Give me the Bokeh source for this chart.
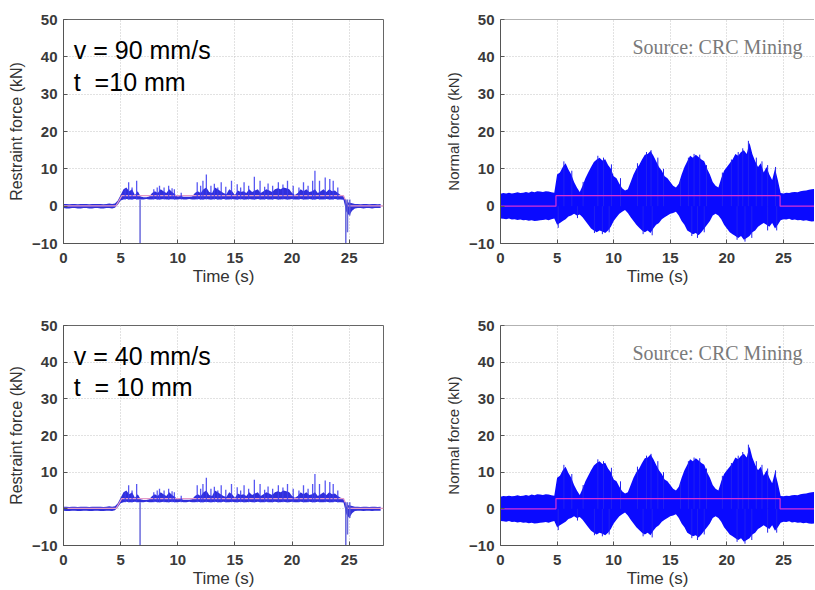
from bokeh.plotting import figure
from bokeh.layouts import column, row
from bokeh.models import Range1d, FixedTicker, Label, Span
from bokeh.embed import file_html
from bokeh.resources import INLINE

# ---------------- data ----------------
x_ticks = [0, 5, 10, 15, 20, 25]
y_ticks = [-10, 0, 10, 20, 30, 40, 50]

# sample times (s) of the envelopes, every 0.25 s
t_env = [i * 0.25 for i in range(112)]

# Normal force envelope (kN)
normal_upper = [3.3, 3.5, 3.4, 3.6, 3.4, 3.5, 3.7, 3.5, 3.6, 3.8, 3.6, 3.9, 3.7, 4.0, 3.9, 3.8, 4.0, 3.9, 3.7, 3.6,
                8.5, 9.0, 10.5, 11.5, 9.8, 8.5, 6.5, 5.0, 3.8, 5.5, 7.5, 9.0, 10.5, 11.8, 12.5, 13.0, 12.2, 12.6, 11.0, 10.0,
                8.0, 7.5, 6.0, 4.8, 4.2, 4.5, 6.5, 8.5, 10.0, 11.0, 12.5, 13.8, 14.0, 14.8, 13.6, 12.0, 10.5, 9.5, 8.0, 7.5,
                6.5, 5.5, 5.0, 6.0, 8.5, 10.5, 12.0, 13.5, 13.0, 13.8, 13.2, 12.5, 12.0, 10.0, 8.5, 6.5, 5.5, 5.0, 7.5, 9.5,
                10.5, 11.5, 12.5, 14.0, 13.5, 14.5, 15.0, 14.0, 17.0, 14.0, 12.0, 10.5, 11.5, 9.0, 10.5, 8.5, 7.0, 10.0, 7.0, 3.5,
                3.4, 3.6, 3.5, 3.7, 3.8, 3.7, 4.0, 4.1, 4.2, 4.4, 4.5, 4.6]
normal_lower = [-3.3, -3.4, -3.5, -3.3, -3.6, -3.5, -3.7, -3.6, -3.8, -3.7, -3.9, -3.8, -4.0, -3.9, -3.8, -3.7, -3.6, -3.8, -3.5, -3.3,
                -5.0, -4.5, -4.0, -3.5, -2.8, -2.5, -2.0, -2.5, -2.2, -3.0, -4.0, -5.0, -6.0, -6.5, -7.0, -6.5, -6.8, -7.2, -6.5, -5.5,
                -4.0, -3.0, -2.0, -1.5, -1.0, -1.8, -3.0, -4.0, -5.0, -5.8, -6.5, -7.0, -6.5, -7.2, -6.0, -5.0, -4.5, -3.5, -3.0, -2.5,
                -2.0, -1.8, -1.5, -2.5, -4.0, -5.0, -6.5, -7.0, -7.5, -7.2, -7.8, -7.0, -6.0, -5.0, -4.0, -2.5, -2.0, -2.5, -3.5, -5.0,
                -6.0, -7.0, -7.5, -8.0, -8.5, -8.0, -9.0, -8.5, -8.0, -7.0, -6.5, -5.5, -5.0, -4.5, -5.0, -5.5, -4.5, -6.0, -5.0, -3.8,
                -3.5, -3.6, -3.4, -3.7, -3.6, -3.8, -3.7, -3.9, -3.8, -4.0, -4.1, -4.0]

# Normal force single peaks sticking out of the envelope
normal_peak_hi_t = [5.6, 6.3, 7.3, 8.6, 9.1, 9.8, 10.6, 12.1, 12.9, 13.3, 13.9, 14.4, 15.9, 16.6, 17.1, 17.6,
                    18.2, 19.6, 20.4, 21.0, 21.4, 21.9, 22.6, 23.1, 23.6, 24.3]
normal_peak_hi_v = [12.0, 9.5, 6.5, 13.5, 13.0, 11.2, 7.5, 11.5, 14.5, 15.0, 13.0, 10.0, 7.0, 13.0, 14.0, 13.8,
                    11.0, 9.0, 12.5, 14.5, 15.5, 17.5, 13.0, 12.0, 11.0, 10.5]
normal_peak_lo_t = [5.1, 6.8, 8.3, 9.0, 9.6, 12.6, 13.4, 16.9, 17.4, 18.0, 20.9, 21.6, 22.2, 23.6, 24.4]
normal_peak_lo_v = [-5.8, -3.2, -7.2, -7.5, -7.0, -7.5, -7.8, -8.0, -8.5, -7.0, -9.0, -9.5, -8.5, -6.5, -6.5]

# Normal force mean (magenta step)
normal_mean_t = [0, 4.9, 4.9, 24.7, 24.7, 28]
normal_mean_v = [0, 0, 2.8, 2.8, 0, 0]

# Restraint force dense band (kN)
restraint_upper = [0.6, 0.6, 0.5, 0.6, 0.6, 0.5, 0.6, 0.6, 0.6, 0.5, 0.6, 0.6, 0.6, 0.6, 0.5, 0.6, 0.7, 0.6, 0.7, 1.5,
                   3.0, 4.5, 5.0, 4.0, 4.5, 3.0, 4.0, 2.6, 2.4, 2.4, 2.6, 3.5, 4.0, 3.5, 4.5, 4.0, 3.5, 4.5, 3.8, 3.2,
                   2.6, 2.8, 2.5, 2.5, 2.5, 2.6, 3.5, 4.0, 3.5, 4.5, 5.0, 3.8, 3.5, 5.0, 4.5, 4.0, 3.5, 3.2, 4.5, 4.0,
                   3.0, 4.2, 3.8, 4.0, 3.5, 4.5, 3.8, 4.2, 4.5, 3.5, 4.0, 4.5, 4.2, 3.8, 4.5, 4.8, 4.5, 5.0, 4.8, 4.5,
                   3.5, 3.0, 3.5, 4.5, 4.0, 4.5, 3.8, 4.0, 4.5, 3.5, 4.0, 4.5, 3.8, 4.5, 4.0, 4.2, 3.5, 3.0, 2.8, 1.0,
                   1.0, 0.8, 0.6, 0.6, 0.5, 0.6, 0.6, 0.5, 0.6, 0.6, 0.5, 0.6]
restraint_lower = [-0.5, -0.6, -0.6, -0.5, -0.5, -0.6, -0.6, -0.5, -0.5, -0.6, -0.6, -0.5, -0.5, -0.6, -0.6, -0.5, -0.5, -0.6, -0.4, 0.4,
                   1.5, 1.8, 1.9, 1.8, 1.8, 1.9, 1.8, 1.8, 1.8, 1.9, 1.8, 1.8, 1.9, 1.8, 1.8, 1.9, 1.8, 1.8, 1.9, 1.8,
                   1.8, 1.9, 1.8, 1.8, 1.9, 1.8, 1.8, 1.9, 1.8, 1.8, 1.9, 1.8, 1.8, 1.9, 1.8, 1.8, 1.9, 1.8, 1.8, 1.9,
                   1.8, 1.8, 1.9, 1.8, 1.8, 1.9, 1.8, 1.8, 1.9, 1.8, 1.8, 1.9, 1.8, 1.8, 1.9, 1.8, 1.8, 1.9, 1.8, 1.8,
                   1.9, 1.8, 1.8, 1.9, 1.8, 1.8, 1.9, 1.8, 1.8, 1.9, 1.8, 1.8, 1.9, 1.8, 1.8, 1.9, 1.8, 1.8, 1.7, -1.5,
                   -2.5, -1.2, -0.6, -0.5, -0.5, -0.6, -0.5, -0.5, -0.6, -0.5, -0.5, -0.5]

# Restraint force upward spikes
spike_t = [5.4, 5.7, 6.0, 6.4, 7.9, 8.2, 8.4, 8.8, 9.2, 9.5, 9.7, 10.3, 11.7, 12.0, 12.2, 12.5, 12.9, 13.2, 13.5, 13.8,
           14.2, 14.7, 15.2, 15.5, 15.8, 16.2, 16.7, 17.2, 17.6, 17.9, 18.3, 18.8, 19.2, 19.6, 20.1, 20.6, 21.0, 21.4,
           21.8, 22.0, 22.4, 22.9, 23.3, 23.6, 24.0]
spike_v = [4.5, 6.4, 5.0, 6.8, 4.5, 5.0, 5.5, 5.0, 5.5, 4.8, 4.5, 3.6, 6.4, 5.5, 6.8, 8.5, 5.5, 6.0, 5.0, 6.4,
           5.2, 6.8, 5.9, 5.0, 6.4, 5.5, 7.9, 6.8, 5.2, 6.1, 5.5, 6.4, 5.8, 6.8, 5.5, 5.0, 6.4, 5.5,
           6.8, 9.5, 6.8, 7.7, 7.3, 6.8, 5.0]
spike_base = 1.8

# Restraint force downward spikes
neg_t = [6.7, 24.7, 24.85, 25.05]
neg_v = [-10.5, -10.5, -7.0, -2.5]

# Restraint force mean (pink)
restraint_mean_t = [0, 4.6, 5.1, 24.5, 24.9, 28]
restraint_mean_v = [0.1, 0.1, 2.8, 2.8, 0.1, 0.1]

# ---------------- styling helpers ----------------
SANS = "Liberation Sans"


def make_fig(width, height, mbl, mbr, mbt, mbb, x_end, ylabel, ylabel_size, right_col):
    p = figure(width=width, height=height, x_range=Range1d(0, x_end), y_range=Range1d(-10, 50),
               output_backend="svg", toolbar_location=None,
               min_border_left=mbl, min_border_right=mbr, min_border_top=mbt, min_border_bottom=mbb)
    p.background_fill_color = "white"
    p.border_fill_color = "white"
    if right_col:
        p.outline_line_color = None
    else:
        p.outline_line_color = "#666666"
    for ax, ticks in ((p.xaxis, x_ticks), (p.yaxis, y_ticks)):
        ax.ticker = FixedTicker(ticks=ticks)
        ax.major_tick_in = 4
        ax.major_tick_out = 0
        ax.minor_tick_line_color = None
        ax.axis_line_color = "#555555"
        ax.major_tick_line_color = "#555555"
        ax.major_label_text_font = SANS
        ax.major_label_text_font_size = "15px"
        ax.major_label_text_font_style = "bold"
        ax.major_label_text_color = "#3a3a3a"
        ax.axis_label_text_font = SANS
        ax.axis_label_text_font_style = "normal"
        ax.axis_label_text_color = "#333333"
    p.xaxis.axis_label = "Time (s)"
    p.xaxis.axis_label_text_font_size = "17px"
    p.xaxis.major_label_standoff = 9
    p.xaxis.axis_label_standoff = 1
    p.yaxis.axis_label = ylabel
    p.yaxis.axis_label_text_font_size = ylabel_size
    p.yaxis.major_label_standoff = 6
    p.yaxis.axis_label_standoff = 4
    p.grid.grid_line_color = "#c4c4c4"
    p.grid.grid_line_dash = "1 2"
    p.grid.grid_line_width = 1
    if right_col:
        p.add_layout(Span(location=50, dimension="width", line_color="#666666", line_width=1))
    return p


def restraint_plot(height, mbt, mbb, line1, line2):
    p = make_fig(400, height, 63, 17, mbt, mbb, 28, "Restraint force (kN)", "16px", False)
    p.varea(x=t_env, y1=restraint_lower, y2=restraint_upper, fill_color="#2424d8", fill_alpha=0.95)
    p.line(restraint_mean_t, restraint_mean_v, line_color="#e49ac8", line_width=1.2)
    p.segment(x0=spike_t, y0=[spike_base] * len(spike_t), x1=spike_t, y1=spike_v,
              line_color="#3b3bf0", line_width=1.3, line_alpha=0.85)
    p.segment(x0=neg_t, y0=[spike_base] * len(neg_t), x1=neg_t, y1=neg_v,
              line_color="#5a5ad8", line_width=1.5, line_alpha=0.9)
    p.add_layout(Label(x=0.9, y=41.7, text=line1, text_font=SANS, text_font_size="25px",
                       text_color="black", text_baseline="alphabetic"))
    p.add_layout(Label(x=0.9, y=33.3, text=line2, text_font=SANS, text_font_size="25px",
                       text_color="black", text_baseline="alphabetic"))
    return p


def normal_plot(height, mbt, mbb):
    p = make_fig(414, height, 100, 0, mbt, mbb, 27.74, "Normal force (kN)", "15px", True)
    p.varea(x=t_env, y1=normal_lower, y2=normal_upper, fill_color="#0a0aff", fill_alpha=1.0)
    p.segment(x0=normal_peak_hi_t, y0=[0] * len(normal_peak_hi_t), x1=normal_peak_hi_t, y1=normal_peak_hi_v,
              line_color="#2020f0", line_width=1)
    p.segment(x0=normal_peak_lo_t, y0=[0] * len(normal_peak_lo_t), x1=normal_peak_lo_t, y1=normal_peak_lo_v,
              line_color="#2020f0", line_width=1)
    p.line(normal_mean_t, normal_mean_v, line_color="#d630d6", line_width=1.2)
    p.add_layout(Label(x=11.66, y=42.6, text="Source: CRC Mining", text_font="Liberation Serif",
                       text_font_size="20px", text_color="#7a7a7a", text_baseline="alphabetic"))
    return p


p1 = restraint_plot(297, 19, 54, "v = 90 mm/s", "t\u00a0 =10 mm")
p2 = normal_plot(297, 19, 54)
p3 = restraint_plot(293, 28, 42, "v = 40 mm/s", "t\u00a0 = 10 mm")
p4 = normal_plot(293, 28, 42)

layout = column(row(p1, p2), row(p3, p4))

with open("out.html", "w") as f:
    f.write(file_html(layout, INLINE))
